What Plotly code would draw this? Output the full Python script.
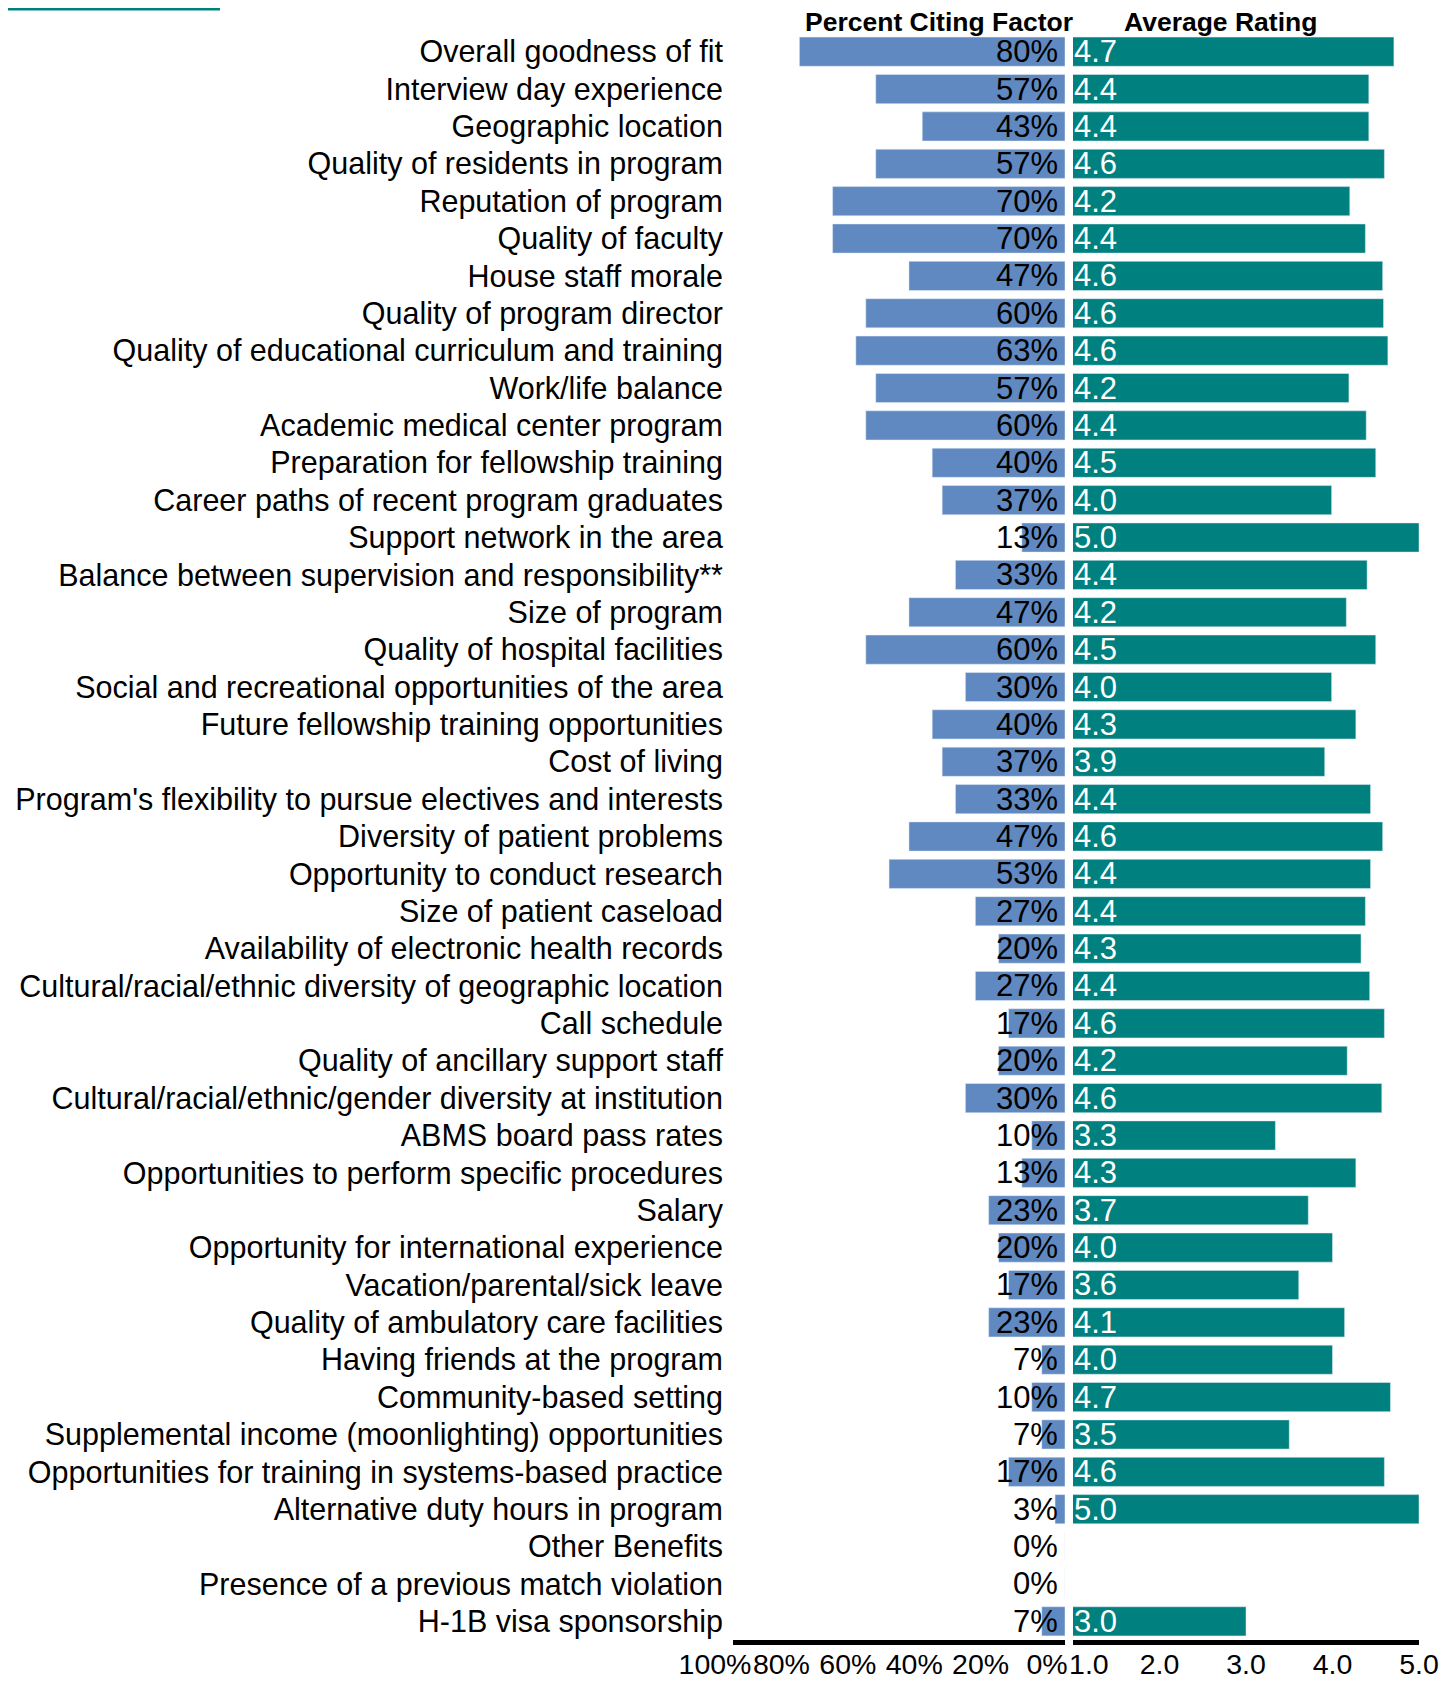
import plotly.graph_objects as go

factors = [
    "Overall goodness of fit", "Interview day experience", "Geographic location",
    "Quality of residents in program", "Reputation of program", "Quality of faculty",
    "House staff morale", "Quality of program director",
    "Quality of educational curriculum and training", "Work/life balance",
    "Academic medical center program", "Preparation for fellowship training",
    "Career paths of recent program graduates", "Support network in the area",
    "Balance between supervision and responsibility**", "Size of program",
    "Quality of hospital facilities", "Social and recreational opportunities of the area",
    "Future fellowship training opportunities", "Cost of living",
    "Program's flexibility to pursue electives and interests",
    "Diversity of patient problems", "Opportunity to conduct research",
    "Size of patient caseload", "Availability of electronic health records",
    "Cultural/racial/ethnic diversity of geographic location", "Call schedule",
    "Quality of ancillary support staff",
    "Cultural/racial/ethnic/gender diversity at institution", "ABMS board pass rates",
    "Opportunities to perform specific procedures", "Salary",
    "Opportunity for international experience", "Vacation/parental/sick leave",
    "Quality of ambulatory care facilities", "Having friends at the program",
    "Community-based setting", "Supplemental income (moonlighting) opportunities",
    "Opportunities for training in systems-based practice",
    "Alternative duty hours in program", "Other Benefits",
    "Presence of a previous match violation", "H-1B visa sponsorship",
]

percent_citing = [80, 57, 43, 57, 70, 70, 47, 60, 63, 57, 60, 40, 37, 13, 33, 47, 60, 30,
                  40, 37, 33, 47, 53, 27, 20, 27, 17, 20, 30, 10, 13, 23, 20, 17, 23, 7,
                  10, 7, 17, 3, 0, 0, 7]

avg_rating = [4.71, 4.42, 4.42, 4.60, 4.20, 4.38, 4.58, 4.59, 4.64, 4.19, 4.39, 4.50,
              3.99, 5.00, 4.40, 4.16, 4.50, 3.99, 4.27, 3.91, 4.44, 4.58, 4.44, 4.38,
              4.33, 4.43, 4.60, 4.17, 4.57, 3.34, 4.27, 3.72, 4.00, 3.61, 4.14, 4.00,
              4.67, 3.50, 4.60, 5.00, None, None, 3.00]

pct_ticks = [100, 80, 60, 40, 20, 0]
pct_ticktext = ["100%", "80%", "60%", "40%", "20%", "0%"]
rating_ticks = [1, 2, 3, 4, 5]
# padded so the first label sits clear of "0%", as in the original
rating_ticktext = ["\u00a0\u00a0\u00a0\u00a01.0", "2.0", "3.0", "4.0", "5.0"]

BLUE = "#5f89c0"
TEAL = "#00807e"
FONT = "Liberation Sans, Arial, sans-serif"

W, H = 1448, 1674
ML, MR, MT, MB = 725, 37, 25, 42
plot_w = W - ML - MR
plot_h = H - MT - MB

fig = go.Figure()

fig.add_trace(go.Bar(
    y=factors, x=percent_citing, orientation="h", marker_color=BLUE,
    xaxis="x", yaxis="y", showlegend=False, hoverinfo="skip",
))
fig.add_trace(go.Bar(
    y=factors, x=avg_rating, orientation="h", marker_color=TEAL,
    xaxis="x2", yaxis="y", showlegend=False, hoverinfo="skip",
))

# value labels: percentages right-aligned at 0%, ratings left-aligned at 1.0
annotations = []
for name, pct, rating in zip(factors, percent_citing, avg_rating):
    annotations.append(dict(
        x=0, y=name, xref="x", yref="y", text=f"{pct}%", showarrow=False,
        xanchor="right", yanchor="middle", xshift=-5,
        font=dict(size=31, color="black"),
    ))
    if rating is not None:
        annotations.append(dict(
            x=1, y=name, xref="x2", yref="y", text=f"{rating:.1f}", showarrow=False,
            xanchor="left", yanchor="middle", xshift=-1,
            font=dict(size=31, color="white"),
        ))

annotations += [
    dict(text="<b>Percent Citing Factor</b>", xref="x domain", yref="paper",
         x=0.62, y=1, xanchor="center", yanchor="middle", yshift=11,
         showarrow=False, font=dict(size=26.5)),
    dict(text="<b>Average Rating</b>", xref="x2 domain", yref="paper",
         x=0.425, y=1, xanchor="center", yanchor="middle", yshift=11,
         showarrow=False, font=dict(size=26.5)),
]

fig.update_layout(
    width=W, height=H,
    margin=dict(l=ML, r=MR, t=MT, b=MB),
    paper_bgcolor="white", plot_bgcolor="white",
    bargap=0.22,
    font=dict(family=FONT, size=29, color="black"),
    xaxis=dict(
        domain=[0, (1057 - ML) / plot_w], range=[100, 0],
        tickvals=pct_ticks, ticktext=pct_ticktext, ticklabelshift=18,
        ticklabelstandoff=-5, tickangle=0,
        showgrid=False, zeroline=False, showline=True, linecolor="black", linewidth=5,
        ticks="", tickfont=dict(size=28.5), anchor="y", automargin=False,
    ),
    xaxis2=dict(
        domain=[(1065 - ML) / plot_w, 1], range=[1, 5],
        tickvals=rating_ticks, ticktext=rating_ticktext, tickangle=0,
        ticklabelstandoff=-5,
        showgrid=False, zeroline=False, showline=True, linecolor="black", linewidth=5,
        ticks="", tickfont=dict(size=28.5), anchor="y", automargin=False,
    ),
    yaxis=dict(
        categoryorder="array", categoryarray=factors,
        tickmode="array", tickvals=factors,
        range=[len(factors) - 0.5, -0.5],
        showgrid=False, zeroline=False, showline=False,
        ticks="outside", ticklen=3, tickcolor="rgba(0,0,0,0)",
        tickfont=dict(size=30.5), anchor="x", automargin=False,
    ),
    annotations=annotations,
    shapes=[
        dict(type="line", xref="paper", yref="paper",
             x0=-ML / plot_w, x1=(212 - ML) / plot_w,
             y0=1 + (MT - 1) / plot_h, y1=1 + (MT - 1) / plot_h,
             line=dict(color=TEAL, width=3)),
    ],
)

fig.write_html("out.html")
